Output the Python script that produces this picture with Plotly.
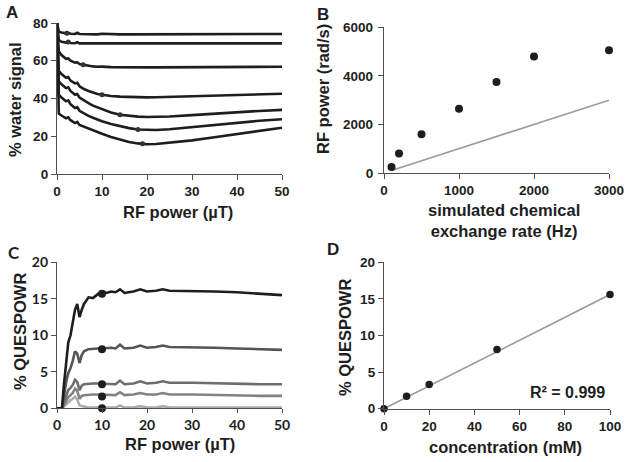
import plotly.graph_objects as go

# ---------------- Data ----------------
# Panel A: % water signal vs RF power (uT), seven curves
a_x = [0, 0.4, 1, 2, 2.5, 3, 4, 4.5, 5, 6, 7, 8, 9, 10, 12, 14, 16, 18, 20, 22, 25, 30, 35, 40, 45, 50]
a_curve1 = [80, 75.5, 75, 74.5, 74.8, 74.3, 74.2, 74.8, 74.2, 74.1, 74.1, 74.0, 74.0, 74.3, 74.0, 74.0, 74.0, 74.0, 74.0, 74.0, 74.0, 74.1, 74.1, 74.2, 74.2, 74.2]
a_curve2 = [80, 71, 70, 69.6, 70.1, 69.4, 69.3, 69.8, 69.2, 69.2, 69.2, 69.1, 69.1, 69.4, 69.1, 69.0, 69.0, 69.0, 69.0, 69.0, 69.0, 69.0, 69.1, 69.1, 69.2, 69.2]
a_curve3 = [80, 65, 63, 61, 61.2, 60, 59, 59.2, 58.3, 57.8, 57.3, 57, 56.8, 56.9, 56.6, 56.5, 56.5, 56.5, 56.5, 56.5, 56.5, 56.6, 56.6, 56.7, 56.7, 56.8]
a_curve4 = [80, 54.5, 53, 51, 51.4, 49.5, 48, 48.3, 46.5, 45, 44, 43, 42.4, 42, 41.3, 41, 40.8, 40.7, 40.6, 40.7, 40.9, 41.2, 41.6, 42, 42.3, 42.5]
a_curve5 = [80, 49, 47.5, 45.5, 45.9, 44, 42, 42.4, 40.5, 38.8, 37.5, 36.2, 35.2, 34.3, 32.6, 31.4, 30.8, 30.4, 30.2, 30.2, 30.5, 31.2, 32, 32.8, 33.4, 34]
a_curve6 = [80, 42, 40.5, 38.5, 39, 37, 35, 35.4, 33.5, 32, 30.8, 29.8, 28.8, 28, 26.5, 25.3, 24.3, 23.6, 23.3, 23.3, 23.7, 24.8, 26, 27.3, 28.2, 29]
a_curve7 = [80, 32, 31, 29.5, 30, 28.5, 27, 27.6, 26, 25, 24, 23, 22.2, 21.3, 19.6, 18.1, 17, 16.2, 15.8, 15.9, 16.5, 17.8, 19.5, 21.3, 23, 24.5]
a_dot_x = [2.2, 2.5, 5.8, 10, 14, 18, 19]
a_dot_y = [74.6, 70.0, 57.9, 42, 31.4, 23.6, 16.0]

# Panel B: RF power (rad/s) vs simulated chemical exchange rate (Hz)
b_rate = [100, 200, 500, 1000, 1500, 2000, 3000]
b_power = [250, 800, 1600, 2650, 3750, 4800, 5050]
b_line_x = [100, 3000]
b_line_y = [100, 3000]

# Panel C: % QUESPOWR vs RF power (uT), five concentrations
c_x = [0, 1.1, 1.5, 2, 2.5, 3, 3.5, 4, 4.5, 5, 5.5, 6, 7, 8, 9, 10, 11, 12, 13, 14, 15, 17, 18.5, 20, 22, 23.5, 25, 30, 35, 40, 45, 50]
c_100 = [0, 0, 3, 6.5, 9, 10, 11.5, 13.5, 14.3, 12.5, 13.5, 14.3, 15.2, 15.1, 15.6, 16.0, 15.8, 16.0, 15.9, 16.3, 15.8, 16.0, 16.3, 16.0, 16.1, 16.3, 16.1, 16.1, 16.0, 15.9, 15.7, 15.5]
c_50 = [0, 0, 1.5, 3.5, 4.8, 5.5, 6.5, 7.8, 7.5, 6.2, 7.3, 7.8, 8.1, 8.2, 8.2, 8.2, 8.3, 8.3, 8.2, 8.7, 8.2, 8.3, 8.6, 8.3, 8.4, 8.6, 8.4, 8.4, 8.3, 8.2, 8.1, 8.0]
c_20 = [0, 0, 0.8, 1.8, 2.5, 2.8, 3.2, 3.9, 3.6, 2.5, 3.1, 3.3, 3.4, 3.4, 3.4, 3.4, 3.4, 3.4, 3.3, 3.8, 3.3, 3.4, 3.7, 3.4, 3.5, 3.7, 3.5, 3.5, 3.4, 3.4, 3.3, 3.3]
c_10 = [0, 0, 0.4, 1.0, 1.5, 1.8, 2.1, 2.7, 2.4, 1.3, 1.7, 1.8, 1.9, 1.9, 1.9, 1.9, 1.9, 1.9, 1.8, 2.2, 1.8, 1.9, 2.1, 1.9, 1.9, 2.1, 1.9, 1.9, 1.8, 1.8, 1.7, 1.7]
c_0 = [0, 0, 0.2, 0.5, 0.9, 1.1, 1.3, 1.6, 1.2, 0.4, 0.3, 0.2, 0.1, 0.1, 0.1, 0.1, 0.1, 0.1, 0.1, 0.4, 0.1, 0.1, 0.3, 0.1, 0.1, 0.3, 0.1, 0.1, 0.1, 0.1, 0.1, 0.1]
c_dot_x = [10, 10, 10, 10, 10]
c_dot_y = [15.7, 8.1, 3.3, 1.6, 0]

# Panel D: % QUESPOWR vs concentration (mM)
d_conc = [0, 10, 20, 50, 100]
d_q = [0, 1.7, 3.3, 8.1, 15.6]
d_fit_x = [0, 100]
d_fit_y = [0, 15.6]

# ---------------- Figure ----------------
W, H = 628, 462

def fx(px):
    return px / W

def fy(py):
    return 1 - py / H

FONT = "Liberation Sans, Arial, sans-serif"
LATO = "Lato, sans-serif"
AXC = "#505050"
INK = "#1e1e1e"
fig = go.Figure()

for ys in [a_curve1, a_curve2, a_curve3, a_curve4, a_curve5, a_curve6, a_curve7]:
    fig.add_trace(go.Scatter(x=a_x, y=ys, mode="lines", line=dict(color=INK, width=2.6),
                             xaxis="x", yaxis="y", showlegend=False))
fig.add_trace(go.Scatter(x=a_dot_x, y=a_dot_y, mode="markers", marker=dict(color="#333", size=5),
                         xaxis="x", yaxis="y", showlegend=False))

fig.add_trace(go.Scatter(x=b_line_x, y=b_line_y, mode="lines", line=dict(color="#9a9a9a", width=1.6),
                         xaxis="x2", yaxis="y2", showlegend=False))
fig.add_trace(go.Scatter(x=b_rate, y=b_power, mode="markers", marker=dict(color=INK, size=8),
                         xaxis="x2", yaxis="y2", showlegend=False, cliponaxis=False))

c_cols = ["#1e1e1e", "#555555", "#6e6e6e", "#828282", "#ababab"]
for ys, col in zip([c_0, c_10, c_20, c_50, c_100], c_cols[::-1]):
    fig.add_trace(go.Scatter(x=c_x, y=ys, mode="lines", line=dict(color=col, width=2.6),
                             xaxis="x3", yaxis="y3", showlegend=False))
fig.add_trace(go.Scatter(x=c_dot_x, y=c_dot_y, mode="markers", marker=dict(color=INK, size=8),
                         xaxis="x3", yaxis="y3", showlegend=False, cliponaxis=False))

fig.add_trace(go.Scatter(x=d_fit_x, y=d_fit_y, mode="lines", line=dict(color="#9a9a9a", width=1.6),
                         xaxis="x4", yaxis="y4", showlegend=False))
fig.add_trace(go.Scatter(x=d_conc, y=d_q, mode="markers", marker=dict(color=INK, size=7.5),
                         xaxis="x4", yaxis="y4", showlegend=False, cliponaxis=False))

tickf = dict(family=FONT, size=13.5, color=INK, weight="bold")
tickf_c = dict(family=LATO, size=14, color=INK, weight="bold")

def ax(domain, rng, dtick, anchor, tf=tickf, lblstand=0, tlen=5):
    return dict(domain=domain, range=rng, dtick=dtick, anchor=anchor, automargin=False,
                showline=True, linecolor=AXC, linewidth=1.3, ticks="outside", ticklen=tlen,
                tickcolor=AXC, tickwidth=1.3, showgrid=False, zeroline=False,
                tickfont=tf, ticklabelstandoff=lblstand, fixedrange=True)

fig.update_layout(
    template="none",
    width=W, height=H, margin=dict(l=0, r=0, t=0, b=0, autoexpand=False),
    paper_bgcolor="white", plot_bgcolor="white",
    xaxis=ax([fx(57), fx(282)], [0, 50], 10, "y"),
    yaxis=ax([fy(174), fy(23)], [0, 80], 20, "x"),
    xaxis2=ax([fx(384), fx(609)], [0, 3000], 1000, "y2"),
    yaxis2=ax([fy(173), fy(27.3)], [0, 6000], 2000, "x2", lblstand=2),
    xaxis3=ax([fx(57), fx(282)], [0, 50], 10, "y3", tickf_c, tlen=4),
    yaxis3=ax([fy(408.3), fy(262.3)], [0, 20], 5, "x3", tickf_c),
    xaxis4=ax([fx(384), fx(610)], [0, 100], 20, "y4"),
    yaxis4=ax([fy(408.7), fy(262.3)], [0, 20], 5, "x4"),
)

# axis titles (pixel centres)
titles = [
    ("RF power (µT)", 178, 212, 0),
    ("% water signal", 15, 100, -90),
    ("simulated chemical<br>exchange rate (Hz)", 504, 221, 0),
    ("RF power (rad/s)", 323, 89, -90),
    ("RF power (µT)", 180, 444, 0),
    ("% QUESPOWR", 20, 332, -90),
    ("concentration (mM)", 505, 447, 0),
    ("% QUESPOWR", 345, 338, -90),
]
for t, px, py, rot in titles:
    fig.add_annotation(text=t, x=fx(px), y=fy(py), xref="paper", yref="paper", showarrow=False,
                       xanchor="center", yanchor="middle", textangle=rot,
                       font=dict(family=FONT, size=16.5, color=INK, weight="bold"))

letters = [("A", 12, 13, FONT), ("B", 322.5, 15, FONT), ("C", 14, 252.5, LATO), ("D", 333, 249, FONT)]
for t, px, py, fam in letters:
    fig.add_annotation(text=t, x=fx(px), y=fy(py), xref="paper", yref="paper",
                       showarrow=False, xanchor="center", yanchor="middle",
                       font=dict(family=fam, size=17, color=INK, weight="bold"))

fig.add_annotation(text="R² = 0.999", x=98.7, y=2.2, xref="x4", yref="y4", showarrow=False,
                   xanchor="right", yanchor="middle", font=dict(family=FONT, size=16, color=INK, weight="bold"))

fig.write_html("out.html", config={"displayModeBar": False},
               post_script="document.body.style.margin='0px';")
